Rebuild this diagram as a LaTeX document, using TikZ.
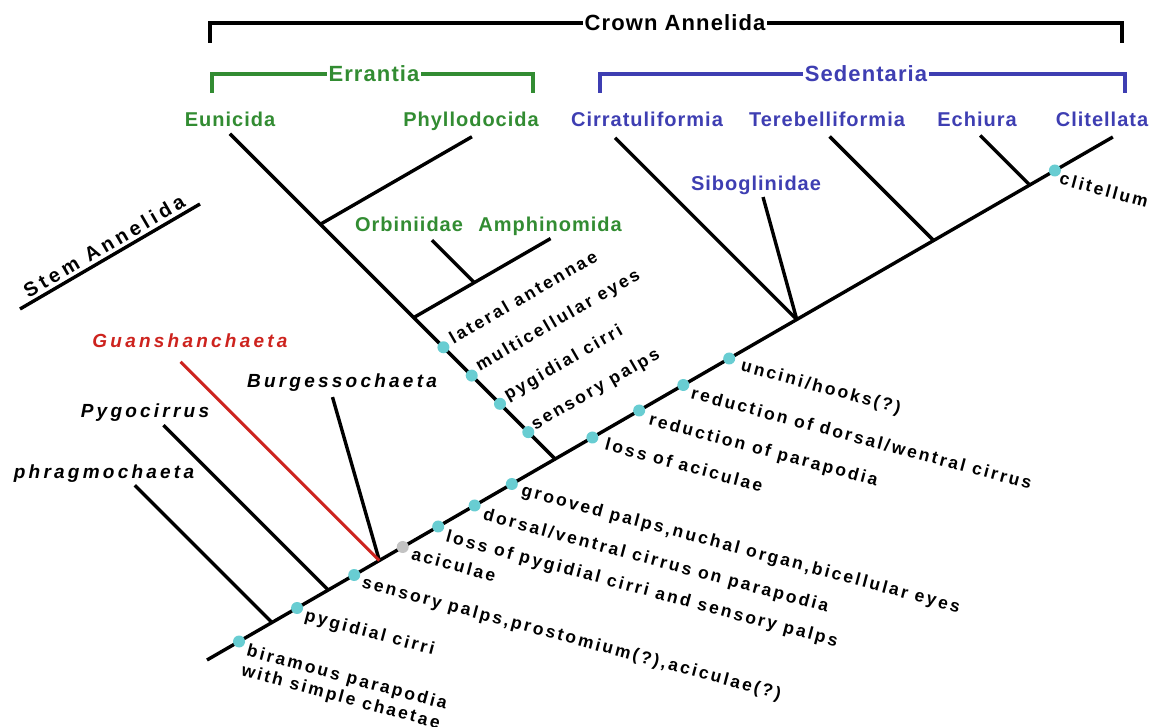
\documentclass[tikz,border=0pt]{standalone}
\usepackage{fontspec}
\setmainfont{Liberation Sans}
\newfontfamily\charfont[LetterSpace=14]{Liberation Sans}
\newfontfamily\taxonfont[LetterSpace=17]{Liberation Sans}
\newfontfamily\cladefont[LetterSpace=5]{Liberation Sans}
\newfontfamily\stemfont[LetterSpace=20]{Liberation Sans}
\usepackage{tikz}
\usetikzlibrary{
  calc,
  positioning
}
\definecolor{errgreen}{RGB}{50,140,50}
\definecolor{sedblue}{RGB}{62,62,178}
\definecolor{stemred}{RGB}{205,35,30}
\definecolor{apocyan}{RGB}{104,205,210}
\definecolor{plesgray}{RGB}{195,195,195}

\begin{document}
\begin{tikzpicture}[
    x=1pt, y=1pt,
    branch/.style={line width=3.4pt},
    bracket/.style={line width=3.6pt},
    apo/.style={circle, fill=apocyan, inner sep=0pt, minimum size=12pt},
    plesio/.style={apo, fill=plesgray},
    chr/.style={
      font=\charfont\bfseries\fontsize{17.5}{20.5}\selectfont,
      anchor=north west, rotate=-15, inner sep=0pt, align=left
    },
    chrup/.style={
      font=\charfont\bfseries\fontsize{17.5}{20.5}\selectfont,
      anchor=base west, rotate=30, inner sep=0pt
    },
    taxon/.style={
      font=\taxonfont\bfseries\itshape\fontsize{19}{22}\selectfont,
      anchor=base, inner sep=0pt
    },
    clade/.style={
      font=\cladefont\bfseries\fontsize{20}{24}\selectfont,
      anchor=base, inner sep=0pt
    },
    brtitle/.style={
      font=\cladefont\bfseries\fontsize{22}{26}\selectfont,
      fill=white, inner xsep=2pt, inner ysep=1pt
    }
  ]
  \useasboundingbox (0,0) rectangle (1151,726);

  %% Brackets
  \draw[bracket] (210,683) |- (1122,703) -- (1122,683);
  \node[brtitle] (crown) at (675,703) {Crown Annelida};
  \draw[bracket, errgreen] (212,633) |- (533,652) -- (533,633);
  \node[brtitle, text=errgreen] (errt) at (374,652) {Errantia};
  \draw[bracket, sedblue] (600,633) |- (1125,652) -- (1125,633);
  \node[brtitle, text=sedblue] (sedt) at (866,652) {Sedentaria};

  %% Stem Annelida
  \coordinate (sa) at (20,417);
  \coordinate (sb) at (200,522);
  \draw[branch] (sa) -- (sb)
    node[midway, sloped, above=3pt, inner sep=0pt,
         font=\stemfont\bfseries\fontsize{20}{24}\selectfont] (stem)
    {Stem Annelida};

  %% Backbone
  \coordinate (root) at (207,66);
  \coordinate (tcli) at ($(root)+(30:1046)$);
  \draw[branch] (root) -- (tcli);

  %% Stem lineages
  \coordinate (jphr) at ($(root)+(30:75)$);
  \coordinate (jpyg) at ($(root)+(30:140)$);
  \coordinate (jgb)  at ($(root)+(30:199)$);
  \coordinate (tphr) at ($(jphr)+(135:194)$);
  \coordinate (tpyg) at ($(jpyg)+(135:233)$);
  \coordinate (tgua) at ($(jgb)+(135:281)$);
  \coordinate (tbur) at ($(jgb)+(106:170)$);
  \draw[branch] (jphr) -- (tphr);
  \draw[branch] (jpyg) -- (tpyg);
  \draw[branch] (jgb) -- (tbur);
  \draw[branch, stemred, line width=3pt] (jgb) -- (tgua);

  \node[taxon] (phr) at (104,247) {phragmochaeta};
  \node[taxon] (pyg) at (145,308) {Pygocirrus};
  \node[taxon, text=stemred] (gua) at (190,378) {Guanshanchaeta};
  \node[taxon] (bur) at (342,338) {Burgessochaeta};

  %% Errantia
  \coordinate (err)  at ($(root)+(30:402)$);
  \coordinate (teun) at ($(err)+(135:460)$);
  \coordinate (jphy) at ($(err)+(135:332)$);
  \coordinate (tphy) at ($(jphy)+(30:175)$);
  \coordinate (jorb) at ($(err)+(135:200)$);
  \coordinate (jamp) at ($(jorb)+(30:70)$);
  \coordinate (tamp) at ($(jorb)+(30:158)$);
  \coordinate (torb) at ($(jamp)+(135:60)$);
  \draw[branch] (err) -- (teun);
  \draw[branch] (jphy) -- (tphy);
  \draw[branch] (jorb) -- (tamp);
  \draw[branch] (jamp) -- (torb);

  %% Sedentaria
  \coordinate (sed)  at ($(root)+(30:681)$);
  \coordinate (tcir) at ($(sed)+(135:257)$);
  \coordinate (tsib) at ($(sed)+(105.4:127)$);
  \coordinate (jter) at ($(root)+(30:839)$);
  \coordinate (tter) at ($(jter)+(135:147)$);
  \coordinate (jech) at ($(root)+(30:950)$);
  \coordinate (tech) at ($(jech)+(135:70)$);
  \draw[branch] (sed) -- (tcir);
  \draw[branch] (sed) -- (tsib);
  \draw[branch] (jter) -- (tter);
  \draw[branch] (jech) -- (tech);

  %% Clade names
  \node[clade, text=errgreen] (eun) at (230,599) {Eunicida};
  \node[clade, text=errgreen] (phy) at (471,599) {Phyllodocida};
  \node[clade, text=errgreen] (orb) at (409,494) {Orbiniidae};
  \node[clade, text=errgreen] (amp) at (550,494) {Amphinomida};
  \node[clade, text=sedblue] (cir) at (647,599) {Cirratuliformia};
  \node[clade, text=sedblue] (ter) at (827,599) {Terebelliformia};
  \node[clade, text=sedblue] (ech) at (977,599) {Echiura};
  \node[clade, text=sedblue] (cli) at (1102,599) {Clitellata};
  \node[clade, text=sedblue] (sib) at (756,535) {Siboglinidae};

  %% Characters on the backbone
  \node[apo] (a1) at ($(root)+(30:37)$) {};
  \node[chr] (c1) at ($(a1)+(10,-2)$) {biramous parapodia\\with simple chaetae};
  \node[apo] (a2) at ($(root)+(30:104)$) {};
  \node[chr] (c2) at ($(a2)+(10,0)$) {pygidial cirri};
  \node[apo] (a3) at ($(root)+(30:170)$) {};
  \node[chr] (c3) at ($(a3)+(10,0)$) {sensory palps,prostomium(?),aciculae(?)};
  \node[plesio] (a4) at ($(root)+(30:226)$) {};
  \node[chr] (c4) at ($(a4)+(11,0)$) {aciculae};
  \node[apo] (a5) at ($(root)+(30:267)$) {};
  \node[chr] (c5) at ($(a5)+(10,-3)$) {loss of pygidial cirri and sensory palps};
  \node[apo] (a6) at ($(root)+(30:309)$) {};
  \node[chr] (c6) at ($(a6)+(11,-2)$) {dorsal/ventral cirrus on parapodia};
  \node[apo] (a7) at ($(root)+(30:352)$) {};
  \node[chr] (c7) at ($(a7)+(12,1)$) {grooved palps,nuchal organ,bicellular eyes};
  \node[apo] (a8) at ($(root)+(30:445)$) {};
  \node[chr] (c8) at ($(a8)+(15,0)$) {loss of aciculae};
  \node[apo] (a9) at ($(root)+(30:499)$) {};
  \node[chr] (c9) at ($(a9)+(12,-2)$) {reduction of parapodia};
  \node[apo] (a10) at ($(root)+(30:550)$) {};
  \node[chr] (c10) at ($(a10)+(10,-1)$) {reduction of dorsal/wentral cirrus};
  \node[apo] (a11) at ($(root)+(30:603)$) {};
  \node[chr] (c11) at ($(a11)+(14,0)$) {uncini/hooks(?)};
  \node[apo] (a12) at ($(root)+(30:979)$) {};
  \node[chr] (c12) at ($(a12)+(7,-1)$) {clitellum};

  %% Characters on the Errantia branch
  \node[apo] (e1) at ($(err)+(135:38)$) {};
  \node[chrup] (u1) at ($(e1)+(7,2)$) {sensory palps};
  \node[apo] (e2) at ($(err)+(135:78)$) {};
  \node[chrup] (u2) at ($(e2)+(8,3)$) {pygidial cirri};
  \node[apo] (e3) at ($(err)+(135:118)$) {};
  \node[chrup] (u3) at ($(e3)+(8,4)$) {multicellular eyes};
  \node[apo] (e4) at ($(err)+(135:158)$) {};
  \node[chrup] (u4) at ($(e4)+(10,3)$) {lateral antennae};

\end{tikzpicture}
\end{document}
